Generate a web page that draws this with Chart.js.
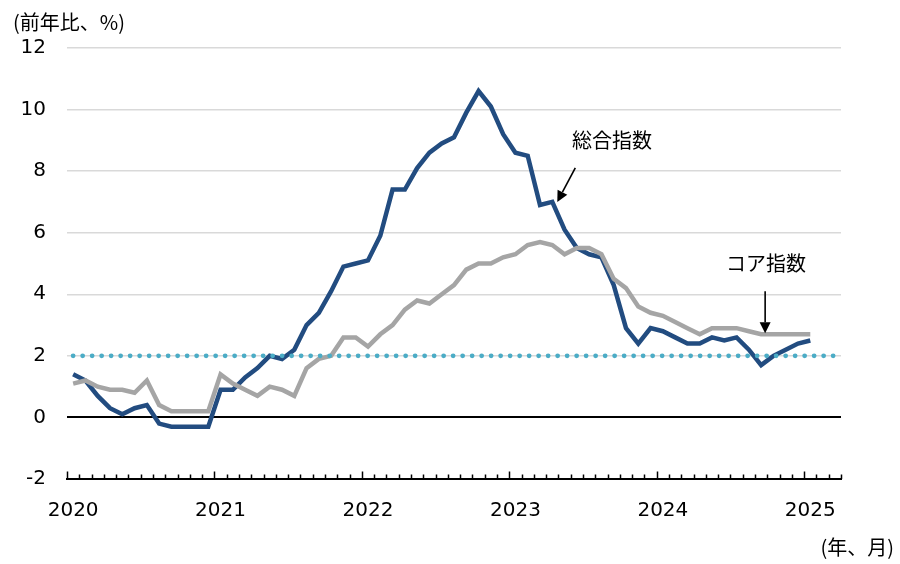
<!DOCTYPE html>
<html>
<head>
<meta charset="utf-8">
<script src="https://cdn.jsdelivr.net/npm/chart.js@4.4.1/dist/chart.umd.min.js"></script>
<style>
html,body{margin:0;padding:0;background:#fff;}
#wrap{width:900px;height:564px;position:relative;}
</style>
</head>
<body>
<div id="wrap"><canvas id="c" width="900" height="564"></canvas></div>
<script>
// Months from 2020-01 to 2025-03 (axis extends 2 months past last observation)
const months = [];
for (let y = 2020; y <= 2025; y++) {
  for (let m = 1; m <= 12; m++) {
    if (y === 2025 && m > 3) break;
    months.push(y + '-' + String(m).padStart(2, '0'));
  }
}
// 総合指数 (headline), 2020-01 .. 2025-01
const headline = [
  1.4, 1.2, 0.7, 0.3, 0.1, 0.3, 0.4, -0.2, -0.3, -0.3, -0.3, -0.3,
  0.9, 0.9, 1.3, 1.6, 2.0, 1.9, 2.2, 3.0, 3.4, 4.1, 4.9, 5.0,
  5.1, 5.9, 7.4, 7.4, 8.1, 8.6, 8.9, 9.1, 9.9, 10.6, 10.1, 9.2,
  8.6, 8.5, 6.9, 7.0, 6.1, 5.5, 5.3, 5.2, 4.3, 2.9, 2.4, 2.9,
  2.8, 2.6, 2.4, 2.4, 2.6, 2.5, 2.6, 2.2, 1.7, 2.0, 2.2, 2.4,
  2.5
];
// コア指数 (core), 2020-01 .. 2025-01
const core = [
  1.1, 1.2, 1.0, 0.9, 0.9, 0.8, 1.2, 0.4, 0.2, 0.2, 0.2, 0.2,
  1.4, 1.1, 0.9, 0.7, 1.0, 0.9, 0.7, 1.6, 1.9, 2.0, 2.6, 2.6,
  2.3, 2.7, 3.0, 3.5, 3.8, 3.7, 4.0, 4.3, 4.8, 5.0, 5.0, 5.2,
  5.3, 5.6, 5.7, 5.6, 5.3, 5.5, 5.5, 5.3, 4.5, 4.2, 3.6, 3.4,
  3.3, 3.1, 2.9, 2.7, 2.9, 2.9, 2.9, 2.8, 2.7, 2.7, 2.7, 2.7,
  2.7
];
// 2% target reference line across the whole axis
const target = months.map(() => 2);
const yTicks = [-2, 0, 2, 4, 6, 8, 10, 12];

const NUM_FONT = '"DejaVu Sans", Verdana, sans-serif';
const JP_FONT = '"Noto Sans CJK JP", "Noto Sans", sans-serif';

const decor = {
  id: 'decor',
  afterDraw(chart) {
    const ctx = chart.ctx;
    const xs = chart.scales.x, ys = chart.scales.y;
    const area = chart.chartArea;
    const step = xs.getPixelForValue(1) - xs.getPixelForValue(0);
    // tick marks (upward from axis line) between categories
    ctx.save();
    ctx.strokeStyle = '#000';
    ctx.lineWidth = 1.5;
    for (let i = 0; i <= months.length; i++) {
      const x = Math.round(xs.getPixelForValue(0) - step / 2 + i * step) + 0.5;
      const major = (i % 12 === 0);
      const len = major ? 7.5 : 4.5;
      ctx.beginPath();
      ctx.moveTo(x, area.bottom);
      ctx.lineTo(x, area.bottom - len);
      ctx.stroke();
    }
    ctx.restore();

    // axis unit labels
    ctx.save();
    ctx.fillStyle = '#000';
    ctx.font = '20px ' + JP_FONT;
    ctx.textBaseline = 'middle';
    ctx.textAlign = 'left';
    ctx.fillText('(前年比、%)', 13, 22);
    ctx.textAlign = 'right';
    ctx.fillText('(年、月)', 894, 547);

    // series annotations
    ctx.textAlign = 'left';
    ctx.fillText('総合指数', 572, 140);
    ctx.fillText('コア指数', 726, 263);
    ctx.restore();

    function arrow(x1, y1, x2, y2) {
      const ang = Math.atan2(y2 - y1, x2 - x1);
      const head = 11, half = 5.5;
      const bx = x2 - head * Math.cos(ang), by = y2 - head * Math.sin(ang);
      ctx.save();
      ctx.strokeStyle = '#000';
      ctx.fillStyle = '#000';
      ctx.lineWidth = 1.6;
      ctx.beginPath();
      ctx.moveTo(x1, y1);
      ctx.lineTo(bx, by);
      ctx.stroke();
      ctx.beginPath();
      ctx.moveTo(x2, y2);
      ctx.lineTo(bx + half * Math.sin(ang), by - half * Math.cos(ang));
      ctx.lineTo(bx - half * Math.sin(ang), by + half * Math.cos(ang));
      ctx.closePath();
      ctx.fill();
      ctx.restore();
    }
    // arrow to headline near 2023-04, arrow to core near 2024-09
    const t1x = xs.getPixelForValue(39) + 5, t1y = ys.getPixelForValue(7.0);
    arrow(t1x + 18, t1y - 34, t1x, t1y);
    const t2x = xs.getPixelForValue(56) + 4, t2y = ys.getPixelForValue(2.7) - 1;
    arrow(t2x, t2y - 42, t2x, t2y);
  }
};

new Chart(document.getElementById('c'), {
  type: 'line',
  data: {
    labels: months,
    datasets: [
      {
        label: '2%',
        data: target,
        borderColor: '#4bacc6',
        borderWidth: 4.8,
        borderDash: [0, 9.5],
        borderCapStyle: 'round',
        pointRadius: 0,
        tension: 0,
        order: 0
      },
      {
        label: 'コア指数',
        data: core,
        borderColor: '#a5a5a5',
        borderWidth: 4.5,
        pointRadius: 0,
        tension: 0,
        borderJoinStyle: 'miter',
        order: 1
      },
      {
        label: '総合指数',
        data: headline,
        borderColor: '#224c80',
        borderWidth: 4.5,
        pointRadius: 0,
        tension: 0,
        borderJoinStyle: 'miter',
        order: 2
      }
    ]
  },
  options: {
    responsive: false,
    animation: false,
    devicePixelRatio: 1,
    layout: { padding: { top: 48, right: 59, bottom: 0, left: 0 } },
    plugins: { legend: { display: false }, tooltip: { enabled: false } },
    scales: {
      x: {
        type: 'category',
        offset: true,
        grid: { display: false, drawTicks: false },
        border: { display: true, color: '#000', width: 2 },
        ticks: {
          autoSkip: false,
          maxRotation: 0,
          padding: 20,
          color: '#000',
          font: { family: NUM_FONT, size: 20 },
          callback: function (v, i) {
            const lab = months[i];
            return lab.endsWith('-01') ? lab.slice(0, 4) : '';
          }
        },
        afterFit: function (s) { s.height = 85; }
      },
      y: {
        min: -2,
        max: 12,
        afterBuildTicks: function (s) { s.ticks = yTicks.map(v => ({ value: v })); },
        grid: {
          drawTicks: false,
          color: function (c) {
            if (c.tick.value === 0) return '#000';
            if (c.tick.value === -2) return 'rgba(0,0,0,0)';
            return '#d9d9d9';
          },
          lineWidth: function (c) { return c.tick.value === 0 ? 2 : 1.5; }
        },
        border: { display: false },
        ticks: {
          padding: 21,
          color: '#000',
          font: { family: NUM_FONT, size: 20 }
        },
        afterFit: function (s) { s.width = 67; }
      }
    }
  },
  plugins: [decor]
});
</script>
</body>
</html>
